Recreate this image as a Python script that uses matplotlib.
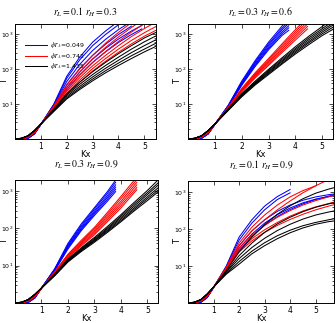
import numpy as np
import matplotlib
matplotlib.use('Agg')
import matplotlib.pyplot as plt

plt.rcParams['mathtext.fontset'] = 'stix'
plt.rcParams['font.family'] = 'DejaVu Sans'

nan = np.nan

# log10(T), one list per curve
# --- top left: r_L = 0.1, r_H = 0.3
tl_blue_kx = [0, .25, .5, .75, 1, 1.5, 2, 2.5, 3, 3.5, 4, 4.5, 4.9]
tl_blue = [
    [0, 0, .02, .15, .42, 1.00, 1.80, 2.35, 2.78, 3.10, 3.38, nan, nan],
    [0, 0, .02, .15, .42, .99, 1.74, 2.27, 2.68, 3.00, 3.28, 3.50, nan],
    [0, 0, .02, .15, .42, .97, 1.65, 2.14, 2.54, 2.86, 3.14, 3.38, nan],
    [0, 0, .02, .15, .42, .95, 1.56, 2.02, 2.40, 2.72, 3.00, 3.24, nan],
    [0, 0, .02, .15, .42, .93, 1.48, 1.92, 2.29, 2.60, 2.87, 3.10, 3.26],
    [0, 0, .02, .15, .42, .91, 1.42, 1.84, 2.20, 2.50, 2.77, 3.00, 3.16],
]
tl_red_kx = [0, .25, .5, .75, 1, 1.5, 2, 2.5, 3, 3.5, 4, 4.5, 5, 5.45]
tl_red = [
    [0, .01, .05, .19, .42, .95, 1.55, 2.01, 2.40, 2.75, 3.06, 3.34, nan, nan],
    [0, .01, .05, .19, .42, .93, 1.48, 1.92, 2.30, 2.63, 2.93, 3.20, 3.45, nan],
    [0, .01, .05, .19, .42, .91, 1.42, 1.83, 2.19, 2.51, 2.80, 3.07, 3.31, 3.50],
    [0, .01, .05, .19, .42, .89, 1.37, 1.76, 2.10, 2.40, 2.68, 2.94, 3.17, 3.36],
    [0, .01, .05, .19, .42, .87, 1.32, 1.69, 2.02, 2.31, 2.58, 2.83, 3.05, 3.23],
    [0, .01, .05, .19, .42, .85, 1.28, 1.63, 1.95, 2.23, 2.49, 2.73, 2.95, 3.12],
]
tl_black_kx = [0, .25, .5, .75, 1, 1.5, 2, 2.5, 3, 3.5, 4, 4.5, 5, 5.45]
tl_black = [
    [0, .02, .09, .24, .43, .86, 1.30, 1.63, 1.93, 2.20, 2.45, 2.68, 2.90, 3.06],
    [0, .02, .09, .24, .43, .84, 1.26, 1.57, 1.85, 2.11, 2.35, 2.58, 2.79, 2.96],
    [0, .02, .09, .24, .43, .82, 1.22, 1.51, 1.78, 2.03, 2.26, 2.48, 2.68, 2.85],
    [0, .02, .09, .24, .43, .80, 1.18, 1.46, 1.72, 1.96, 2.18, 2.39, 2.58, 2.75],
    [0, .02, .09, .24, .43, .79, 1.15, 1.42, 1.67, 1.90, 2.11, 2.31, 2.50, 2.66],
]

# --- top right: r_L = 0.3, r_H = 0.6
tr_blue_kx = [0, .25, .5, .75, 1, 1.5, 2, 2.5, 3, 3.5, 3.75]
tr_blue = [
    [0, 0, .02, .15, .42, .97, 1.66, 2.25, 2.78, 3.24, 3.45],
    [0, 0, .02, .15, .42, .96, 1.63, 2.21, 2.73, 3.18, 3.38],
    [0, 0, .02, .15, .42, .95, 1.61, 2.18, 2.69, 3.13, 3.32],
    [0, 0, .02, .15, .42, .94, 1.58, 2.14, 2.64, 3.07, 3.25],
    [0, 0, .02, .15, .42, .93, 1.56, 2.11, 2.60, 3.02, 3.19],
    [0, 0, .02, .15, .42, .92, 1.54, 2.08, 2.56, 2.97, 3.12],
]
tr_red_kx = [0, .25, .5, .75, 1, 1.5, 2, 2.5, 3, 3.5, 4, 4.45]
tr_red = [
    [0, .01, .05, .19, .42, .92, 1.45, 1.90, 2.31, 2.73, 3.14, 3.50],
    [0, .01, .05, .19, .42, .91, 1.43, 1.87, 2.27, 2.68, 3.08, 3.44],
    [0, .01, .05, .19, .42, .90, 1.41, 1.84, 2.23, 2.63, 3.02, 3.37],
    [0, .01, .05, .19, .42, .89, 1.39, 1.81, 2.19, 2.58, 2.96, 3.30],
    [0, .01, .05, .19, .42, .88, 1.37, 1.78, 2.15, 2.53, 2.90, 3.23],
    [0, .01, .05, .19, .42, .87, 1.35, 1.75, 2.11, 2.48, 2.84, 3.16],
]
tr_black_kx = [0, .25, .5, .75, 1, 1.5, 2, 2.5, 3, 3.5, 4, 4.5, 5, 5.4]
tr_black = [
    [0, .02, .09, .24, .43, .87, 1.30, 1.66, 2.00, 2.33, 2.65, 2.95, 3.23, 3.45],
    [0, .02, .09, .24, .43, .86, 1.28, 1.63, 1.97, 2.29, 2.60, 2.90, 3.17, 3.38],
    [0, .02, .09, .24, .43, .85, 1.27, 1.61, 1.94, 2.25, 2.56, 2.85, 3.12, 3.32],
    [0, .02, .09, .24, .43, .84, 1.25, 1.59, 1.91, 2.22, 2.52, 2.80, 3.07, 3.27],
    [0, .02, .09, .24, .43, .83, 1.23, 1.57, 1.88, 2.18, 2.48, 2.76, 3.02, 3.21],
    [0, .02, .09, .24, .43, .82, 1.21, 1.55, 1.85, 2.15, 2.44, 2.71, 2.97, 3.15],
]

# --- bottom left: r_L = 0.3, r_H = 0.9
bl_blue_kx = [0, .25, .5, .75, 1, 1.5, 2, 2.5, 3, 3.5, 3.8]
bl_blue = [
    [0, 0, .02, .14, .40, .92, 1.60, 2.12, 2.56, 3.00, 3.30],
    [0, 0, .02, .14, .40, .91, 1.57, 2.08, 2.52, 2.95, 3.24],
    [0, 0, .02, .14, .40, .90, 1.54, 2.04, 2.47, 2.89, 3.17],
    [0, 0, .02, .14, .40, .89, 1.51, 2.00, 2.43, 2.84, 3.11],
    [0, 0, .02, .14, .40, .88, 1.48, 1.97, 2.39, 2.79, 3.05],
    [0, 0, .02, .14, .40, .87, 1.45, 1.94, 2.35, 2.74, 2.99],
]
bl_red_kx = [0, .25, .5, .75, 1, 1.5, 2, 2.5, 3, 3.5, 4, 4.6]
bl_red = [
    [0, .01, .05, .18, .40, .84, 1.31, 1.68, 2.03, 2.44, 2.86, 3.38],
    [0, .01, .05, .18, .40, .83, 1.29, 1.65, 1.99, 2.39, 2.80, 3.31],
    [0, .01, .05, .18, .40, .82, 1.27, 1.62, 1.95, 2.34, 2.73, 3.24],
    [0, .01, .05, .18, .40, .81, 1.25, 1.59, 1.91, 2.29, 2.67, 3.17],
    [0, .01, .05, .18, .40, .80, 1.23, 1.56, 1.87, 2.24, 2.61, 3.10],
    [0, .01, .05, .18, .40, .79, 1.21, 1.53, 1.83, 2.19, 2.55, 3.04],
]
bl_black_kx = [0, .25, .5, .75, 1, 1.5, 2, 2.5, 3, 3.5, 4, 4.5, 5, 5.4]
bl_black = [
    [0, .02, .09, .23, .40, .78, 1.18, 1.48, 1.76, 2.06, 2.37, 2.70, 3.02, 3.30],
    [0, .02, .09, .23, .40, .77, 1.16, 1.46, 1.73, 2.02, 2.33, 2.65, 2.96, 3.22],
    [0, .02, .09, .23, .40, .76, 1.15, 1.44, 1.70, 1.99, 2.29, 2.60, 2.91, 3.16],
    [0, .02, .09, .23, .40, .75, 1.13, 1.42, 1.68, 1.96, 2.25, 2.55, 2.85, 3.09],
    [0, .02, .09, .23, .40, .74, 1.12, 1.40, 1.66, 1.93, 2.21, 2.51, 2.80, 3.03],
    [0, .02, .09, .23, .40, .73, 1.10, 1.38, 1.63, 1.90, 2.18, 2.47, 2.75, 2.98],
]

# --- bottom right: r_L = 0.1, r_H = 0.9
br_kx = [0, .25, .5, .75, 1, 1.5, 2, 2.5, 3, 3.5, 4, 4.5, 5, 5.5, 5.72]
br_blue = [
    [0, 0, .02, .15, .42, 1.00, 1.78, 2.25, 2.62, 2.88, 3.07, nan, nan, nan, nan],
    [0, 0, .02, .15, .42, .98, 1.70, 2.16, 2.52, 2.80, 2.98, nan, nan, nan, nan],
    [0, 0, .02, .15, .42, .95, 1.55, 1.95, 2.25, 2.48, 2.65, 2.78, 2.87, 2.93, 2.95],
    [0, 0, .02, .15, .42, .93, 1.48, 1.86, 2.16, 2.39, 2.57, 2.71, 2.81, 2.88, 2.91],
    [0, 0, .02, .15, .42, .91, 1.42, 1.80, 2.10, 2.34, 2.53, 2.68, 2.80, 2.89, 2.92],
]
br_red = [
    [0, .01, .05, .19, .42, .97, 1.62, 2.05, 2.38, 2.65, 2.87, 3.04, 3.17, nan, nan],
    [0, .01, .05, .19, .42, .95, 1.55, 1.95, 2.25, 2.52, 2.76, 2.98, 3.17, 3.34, 3.42],
    [0, .01, .05, .19, .42, .93, 1.48, 1.83, 2.10, 2.32, 2.50, 2.65, 2.77, 2.87, 2.91],
    [0, .01, .05, .19, .42, .91, 1.42, 1.74, 1.98, 2.18, 2.35, 2.49, 2.60, 2.69, 2.73],
    [0, .01, .05, .19, .42, .89, 1.38, 1.68, 1.91, 2.10, 2.26, 2.40, 2.52, 2.62, 2.66],
]
br_black = [
    [0, .02, .09, .24, .43, .88, 1.38, 1.78, 2.12, 2.40, 2.63, 2.82, 2.97, 3.08, 3.12],
    [0, .02, .09, .24, .43, .85, 1.28, 1.62, 1.91, 2.14, 2.32, 2.47, 2.59, 2.68, 2.71],
    [0, .02, .09, .24, .43, .83, 1.20, 1.50, 1.75, 1.96, 2.13, 2.27, 2.38, 2.46, 2.49],
    [0, .02, .09, .24, .43, .80, 1.12, 1.40, 1.63, 1.82, 1.97, 2.09, 2.18, 2.25, 2.28],
    [0, .02, .09, .24, .43, .78, 1.05, 1.33, 1.55, 1.74, 1.90, 2.03, 2.13, 2.20, 2.22],
]

titles = [r'$r_L = 0.1\ r_H = 0.3$', r'$r_L = 0.3\ r_H = 0.6$',
          r'$r_L = 0.3\ r_H = 0.9$', r'$r_L = 0.1\ r_H = 0.9$']
xmax = [5.45, 5.4, 5.4, 5.72]
legend_labels = [r'$\phi T_A$=0.049', r'$\phi T_A$=0.742', r'$\phi T_A$=1.435']
colors = ['b', 'r', 'k']

panels = [
    [(tl_blue_kx, tl_blue), (tl_red_kx, tl_red), (tl_black_kx, tl_black)],
    [(tr_blue_kx, tr_blue), (tr_red_kx, tr_red), (tr_black_kx, tr_black)],
    [(bl_blue_kx, bl_blue), (bl_red_kx, bl_red), (bl_black_kx, bl_black)],
    [(br_kx, br_blue), (br_kx, br_red), (br_kx, br_black)],
]

W, H = 336, 323
fig = plt.figure(figsize=(W / 100, H / 100), dpi=100)
# axes boxes in pixels: left, top, right, bottom
boxes = [(15, 24, 156, 139), (188, 24, 333, 139), (15, 180, 158, 303), (188, 181, 334, 303)]
title_pad = [6, 6, 9, 9]

for i, (box, bundles) in enumerate(zip(boxes, panels)):
    l, t, r, b = box
    ax = fig.add_axes([l / W, 1 - b / H, (r - l) / W, (b - t) / H])
    for k, (kx, curves) in enumerate(bundles):
        for j, logT in enumerate(curves):
            ax.plot(kx, 10 ** np.array(logT, dtype=float), color=colors[k], lw=0.75,
                    label=legend_labels[k] if j == 0 else None)
    ax.set_yscale('log')
    ax.set_xlim(0, xmax[i])
    ax.set_ylim(1, 2000)
    ax.set_xticks([1, 2, 3, 4, 5])
    ax.set_yticks([10, 100, 1000])
    ax.tick_params(which='both', direction='in', top=True, right=True, width=0.5)
    ax.tick_params(axis='x', labelsize=5.5, pad=2)
    ax.tick_params(axis='y', labelsize=4.5, pad=1)
    ax.tick_params(which='major', length=3)
    ax.tick_params(which='minor', length=1.5)
    for s in ax.spines.values():
        s.set_linewidth(0.7)
    ax.set_xlabel('Kx', fontsize=6, labelpad=-0.5)
    ax.set_ylabel('T', fontsize=6)
    ax.yaxis.set_label_coords(-6 / (r - l), 0.5)
    ax.set_title(titles[i], fontsize=7, pad=title_pad[i])
    if i == 0:
        ax.legend(loc='upper left', bbox_to_anchor=(0.07, 0.86), frameon=False,
                  fontsize=4.5, handlelength=3.5, labelspacing=0.1, borderaxespad=0,
                  borderpad=0, handletextpad=0.5)

fig.savefig('out.png', dpi=100)
